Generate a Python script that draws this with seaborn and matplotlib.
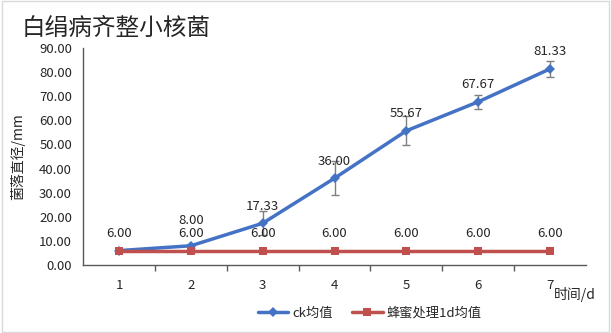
import numpy as np
import pandas as pd
import seaborn as sns
import matplotlib.pyplot as plt

# data
days = [1, 2, 3, 4, 5, 6, 7]
ck_mean = [6.00, 8.00, 17.33, 36.00, 55.67, 67.67, 81.33]
ck_err = [0.0, 0.8, 5.0, 7.0, 6.0, 3.0, 3.3]
honey_mean = [6.00, 6.00, 6.00, 6.00, 6.00, 6.00, 6.00]
series_names = ["ck均值", "蜂蜜处理1d均值"]

df = pd.DataFrame({
    "day": days * 2,
    "value": ck_mean + honey_mean,
    "group": [series_names[0]] * 7 + [series_names[1]] * 7,
})

sns.set_theme(style="white")
plt.rcParams["font.family"] = ["Noto Sans CJK SC", "DejaVu Sans"]

fig = plt.figure(figsize=(6.11, 3.33), dpi=100)
ax = fig.add_axes([0.136, 0.204, 0.823, 0.652])

colors = {series_names[0]: "#4472C4", series_names[1]: "#C0504D"}
ax = sns.lineplot(data=df, x="day", y="value", hue="group",
                  style="group", markers={series_names[0]: "D", series_names[1]: "s"},
                  dashes=False, palette=colors, linewidth=2.5,
                  markersize=5.5, markeredgewidth=0, ax=ax)

# error bars on ck
ax.errorbar(days, ck_mean, yerr=ck_err, fmt="none", ecolor="#7F7F7F",
            elinewidth=1, capsize=3, capthick=1, zorder=1)

# data labels (8.00 sits a little higher so it clears the red label)
for x, y in zip(days, ck_mean):
    if x == 1:
        continue
    off = 10.5 if x == 2 else 7
    ax.text(x, y + off, f"{y:.2f}", ha="center", va="center", fontsize=9.5)
for x, y in zip(days, honey_mean):
    ax.text(x, y + 7, f"{y:.2f}", ha="center", va="center", fontsize=9.5)

ax.set_xlim(0.5, 7.5)
ax.set_ylim(0, 90)
ax.set_yticks(np.arange(0, 91, 10))
ax.set_yticklabels([f"{v:.2f}" for v in np.arange(0, 91, 10)], fontsize=9.5)
ax.set_xticks(days)
ax.set_xticklabels([str(d) for d in days], fontsize=9.5)
ax.set_xticks(np.arange(1.5, 7.5, 1), minor=True)
ax.tick_params(axis="x", which="major", length=0, pad=10)
ax.tick_params(axis="x", which="minor", length=4, color="#595959", direction="out", bottom=True)
ax.tick_params(axis="y", length=0, pad=8)

for side in ["top", "right"]:
    ax.spines[side].set_visible(False)
for side in ["left", "bottom"]:
    ax.spines[side].set_color("#595959")
    ax.spines[side].set_linewidth(1)

ax.set_xlabel("")
ax.set_ylabel("菌落直径/mm", fontsize=10, labelpad=10)
fig.text(0.975, 0.115, "时间/d", ha="right", va="center", fontsize=10)
fig.text(0.036, 0.915, "白绢病齐整小核菌", ha="left", va="center", fontsize=17)

handles, labels = ax.get_legend_handles_labels()
ax.legend(handles, labels, loc="center", bbox_to_anchor=(0.605, 0.06),
          bbox_transform=fig.transFigure, ncol=2, frameon=False,
          fontsize=9.5, handlelength=2.3, handletextpad=0.3, columnspacing=1.5)

# light border around the figure
fig.patches.append(plt.Rectangle((0.003, 0.003), 0.994, 0.994, transform=fig.transFigure,
                                 fill=False, edgecolor="#D9D9D9", linewidth=1))

fig.savefig("out.png", dpi=100)
